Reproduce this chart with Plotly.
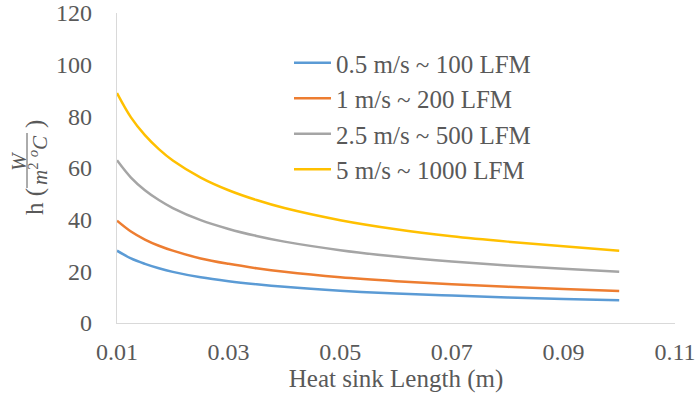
import plotly.graph_objects as go

# Heat sink length (m)
length_m = [0.01, 0.0125, 0.015, 0.0175, 0.02, 0.025, 0.03, 0.035, 0.04,
            0.05, 0.06, 0.07, 0.08, 0.09, 0.1]

# Heat transfer coefficient h (W/m2 oC) per air speed
h_05 = [28.0, 25.0, 22.9, 21.2, 19.8, 17.7, 16.2, 15.0, 14.0, 12.5, 11.4, 10.6, 9.9, 9.3, 8.8]
h_1 = [39.6, 35.4, 32.3, 29.9, 28.0, 25.0, 22.9, 21.2, 19.8, 17.7, 16.2, 15.0, 14.0, 13.2, 12.4]
h_25 = [63.0, 56.3, 51.4, 47.6, 44.5, 39.8, 36.4, 33.7, 31.5, 28.2, 25.7, 23.8, 22.3, 21.0, 19.8]
h_5 = [89.0, 79.6, 72.7, 67.3, 62.9, 56.3, 51.4, 47.6, 44.5, 39.8, 36.3, 33.6, 31.5, 29.7, 28.0]

series_names = ["0.5 m/s ~ 100 LFM", "1 m/s ~ 200 LFM", "2.5 m/s ~ 500 LFM", "5 m/s ~ 1000 LFM"]
series_values = [h_05, h_1, h_25, h_5]
series_colors = ["#5B9BD5", "#ED7D31", "#A5A5A5", "#FFC000"]

x_ticks = [0.01, 0.03, 0.05, 0.07, 0.09, 0.11]
y_ticks = [0, 20, 40, 60, 80, 100, 120]

FONT = "Liberation Serif, Times New Roman, serif"
TXT = "#595959"

fig = go.Figure()
for name, vals, col in zip(series_names, series_values, series_colors):
    fig.add_trace(go.Scatter(
        x=length_m, y=vals, mode="lines", name=name, legendgroup=name,
        line=dict(color=col, width=2.5, shape="spline"),
    ))

W, H = 699, 402
L_M, R_M, T_M, B_M = 117, 24, 13, 79
pw, ph = W - L_M - R_M, H - T_M - B_M


def px_x(px):
    return (px - L_M) / pw


def px_y(py):
    return (H - B_M - py) / ph


fig.update_layout(
    width=W, height=H,
    margin=dict(l=L_M, r=R_M, t=T_M, b=B_M, autoexpand=False),
    paper_bgcolor="white", plot_bgcolor="white",
    font=dict(family=FONT, size=24, color=TXT),
    showlegend=True,
    legend=dict(
        x=px_x(289), y=px_y(40), xanchor="left", yanchor="top",
        bgcolor="rgba(0,0,0,0)", font=dict(size=25, color=TXT),
        tracegroupgap=0, itemwidth=37,
    ),
    xaxis=dict(
        range=[0.01, 0.11], tickvals=x_ticks, ticktext=[f"{v:.2f}" for v in x_ticks],
        showgrid=False, zeroline=False, showline=True, linecolor="#D9D9D9", linewidth=1.3,
        ticks="", ticklabelstandoff=7, tickfont=dict(size=24), automargin=False,
        title=dict(text="Heat sink Length (m)", font=dict(size=25, color=TXT), standoff=2),
    ),
    yaxis=dict(
        range=[0, 120], tickvals=y_ticks,
        showgrid=False, zeroline=False, showline=True, linecolor="#D9D9D9", linewidth=1.3,
        ticks="", ticklabelstandoff=19, tickfont=dict(size=24), automargin=False,
    ),
)

# Y-axis title: h ( W / m2 oC ) drawn as a rotated stacked fraction
ann = dict(xref="paper", yref="paper", showarrow=False, textangle=-90,
           xanchor="center", yanchor="middle")
big = dict(family=FONT, size=25, color=TXT)
small = dict(family=FONT, size=21, color=TXT)
fig.add_annotation(text="h (", x=px_x(35), y=px_y(202), font=big, **ann)
fig.add_annotation(text=")", x=px_x(35), y=px_y(124), font=big, **ann)
fig.add_annotation(text="<i>W</i>", x=px_x(19), y=px_y(161), font=small, **ann)
fig.add_annotation(text="<i>m</i><sup>2</sup> <sup><i>o</i></sup><i>C</i>",
                   x=px_x(38), y=px_y(160), font=small, **ann)
fig.add_shape(type="line", xref="paper", yref="paper",
              x0=px_x(27), x1=px_x(27), y0=px_y(133), y1=px_y(188),
              line=dict(color=TXT, width=1))

fig.write_html("out.html")
